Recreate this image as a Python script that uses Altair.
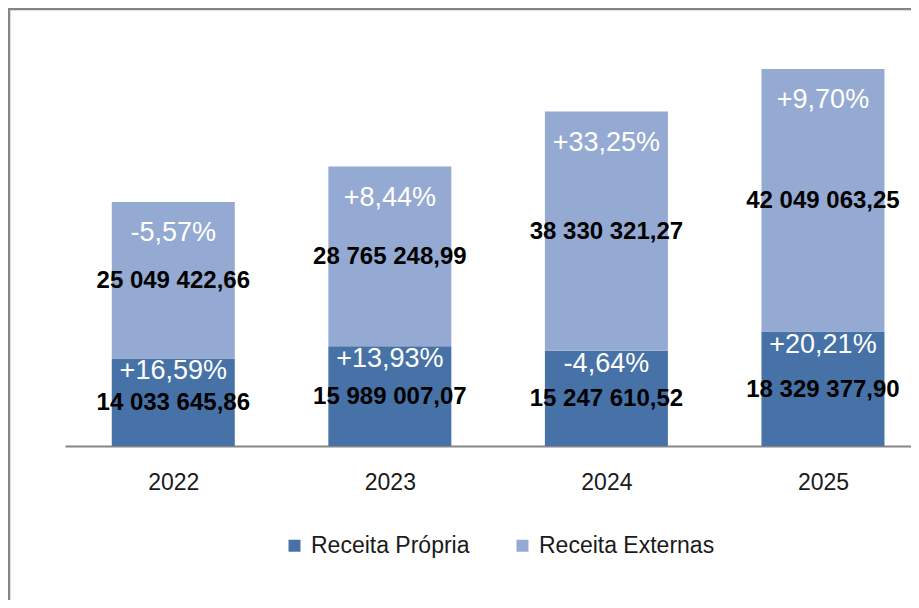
import altair as alt
import pandas as pd

years = [2022, 2023, 2024, 2025]
propria = [14033645.86, 15989007.07, 15247610.52, 18329377.90]
externas = [25049422.66, 28765248.99, 38330321.27, 42049063.25]
var_propria = [16.59, 13.93, -4.64, 20.21]
var_externas = [-5.57, 8.44, 33.25, 9.70]
series = ["Receita Própria", "Receita Externas"]
colors = ["#4672A8", "#95AAD2"]

FONT = "Liberation Sans"


def fmt_val(v):
    return f"{v:,.2f}".replace(",", " ").replace(".", ",")


def fmt_pct(p):
    return f"{p:+.2f}%".replace(".", ",")


rows = []
for i, yr in enumerate(years):
    rows.append(dict(year=yr, serie=series[0], start=0, end=propria[i],
                     mid=propria[i] / 2, label=fmt_val(propria[i]),
                     pct=fmt_pct(var_propria[i])))
    rows.append(dict(year=yr, serie=series[1], start=propria[i],
                     end=propria[i] + externas[i],
                     mid=propria[i] + externas[i] / 2,
                     label=fmt_val(externas[i]),
                     pct=fmt_pct(var_externas[i])))
df = pd.DataFrame(rows)

W, H = 846, 437
PAD = {"left": 57, "top": 1, "right": 0, "bottom": 154}

xscale = alt.Scale(domain=[2021.5, 2025.4065], nice=False, zero=False, padding=0)
yscale = alt.Scale(domain=[0, 70e6], nice=False, zero=True, padding=0)

xenc = alt.X("year:Q", scale=xscale,
             axis=alt.Axis(values=years, format="d", ticks=False, grid=False,
                           title=None, domainColor="#868686", domainWidth=2,
                           labelFont=FONT, labelFontSize=23, labelPadding=25,
                           labelColor="#1a1a1a", labelFlush=False,
                           labelOverlap=False))

base = alt.Chart(df)

bars = base.mark_bar(size=123).encode(
    x=xenc,
    y=alt.Y("start:Q", scale=yscale, axis=None),
    y2="end:Q",
    color=alt.Color("serie:N",
                    scale=alt.Scale(domain=series, range=colors),
                    legend=alt.Legend(title=None, orient="none", legendX=218,
                                      legendY=525, direction="horizontal",
                                      symbolType="square", symbolSize=144,
                                      symbolStrokeWidth=0, labelFont=FONT,
                                      labelFontSize=23, labelColor="#1a1a1a",
                                      labelOffset=5, columnPadding=41,
                                      labelLimit=400, padding=0)),
)

values = base.mark_text(font=FONT, fontSize=24, fontWeight="bold",
                        color="#000000", baseline="middle", dy=1).encode(
    x=alt.X("year:Q", scale=xscale),
    y=alt.Y("mid:Q", scale=yscale),
    text="label:N",
)

pct_bottom = base.transform_filter(alt.datum.serie == series[0]).mark_text(
    font=FONT, fontSize=27, color="#ffffff", baseline="middle", dy=13).encode(
    x=alt.X("year:Q", scale=xscale),
    y=alt.Y("end:Q", scale=yscale),
    text="pct:N",
)

pct_top = base.transform_filter(alt.datum.serie == series[1]).mark_text(
    font=FONT, fontSize=27, color="#ffffff", baseline="middle", dy=31).encode(
    x=alt.X("year:Q", scale=xscale),
    y=alt.Y("end:Q", scale=yscale),
    text="pct:N",
)

one = pd.DataFrame({"a": [0]})
frame_left = alt.Chart(one).mark_rule(color="#858585", strokeWidth=2.5).encode(
    x=alt.value(-56), y=alt.value(-1), y2=alt.value(H + PAD["bottom"]))
frame_top = alt.Chart(one).mark_rule(color="#858585", strokeWidth=2.5).encode(
    x=alt.value(-57), x2=alt.value(W), y=alt.value(0))

chart = alt.layer(bars, values, pct_bottom, pct_top, frame_left, frame_top).properties(
    width=W, height=H, padding=PAD,
    autosize=alt.AutoSizeParams(type="none"),
    background="#ffffff",
).configure_view(stroke="transparent")

chart.save("out.html", embed_options={"renderer": "svg", "actions": False})
